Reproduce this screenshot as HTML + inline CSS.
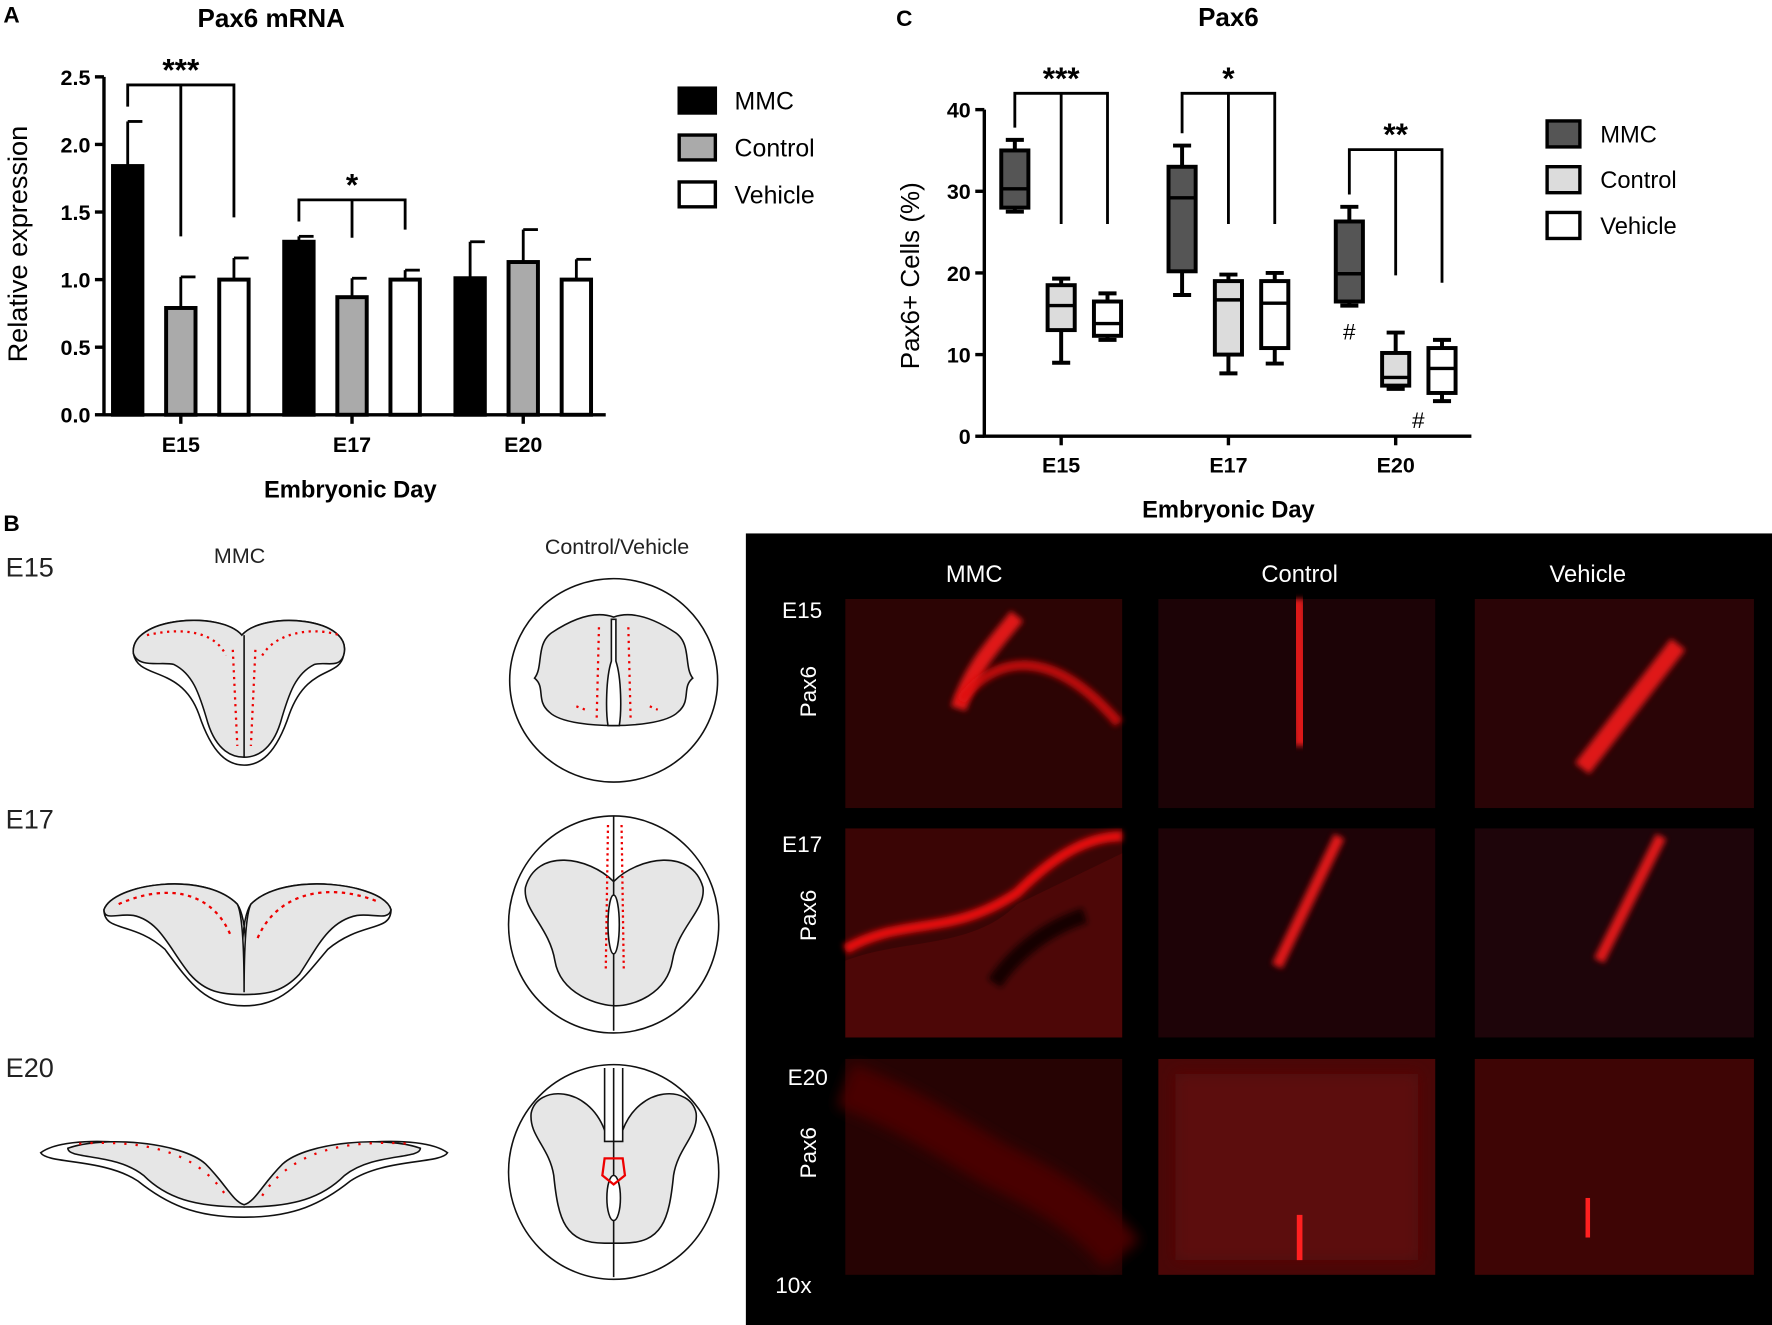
<!DOCTYPE html>
<html><head><meta charset="utf-8">
<style>
html,body{margin:0;padding:0;background:#fff;}
svg{display:block;font-family:"Liberation Sans",Arial,sans-serif;}
</style></head>
<body>
<svg id="fig" width="1772" height="1325" viewBox="0 0 1568 1172.4" preserveAspectRatio="none" xmlns="http://www.w3.org/2000/svg">
<defs>
<filter id="blur2" x="-20%" y="-20%" width="140%" height="140%"><feGaussianBlur stdDeviation="2.5"/></filter>
<filter id="blur5" x="-30%" y="-30%" width="160%" height="160%"><feGaussianBlur stdDeviation="6"/></filter>
</defs>
<rect width="1568" height="1172.4" fill="#fff"/>

<g>
<text x="3" y="20" font-size="20" font-weight="bold">A</text>
<text x="240" y="24" font-size="23" font-weight="bold" text-anchor="middle">Pax6 mRNA</text>
<text transform="translate(24,216) rotate(-90)" font-size="24" text-anchor="middle">Relative expression</text>
<text x="310" y="440" font-size="21" font-weight="bold" text-anchor="middle">Embryonic Day</text>
<g id="chartA"></g>
</g>

<g>
<text x="793" y="23" font-size="20" font-weight="bold">C</text>
<text x="1087" y="23" font-size="23" font-weight="bold" text-anchor="middle">Pax6</text>
<text transform="translate(813,244) rotate(-90)" font-size="23" text-anchor="middle">Pax6+ Cells  (%)</text>
<text x="1087" y="458" font-size="21" font-weight="bold" text-anchor="middle">Embryonic Day</text>
<g id="chartC"></g>
</g>

<g font-size="22" fill="#222">
<text x="3" y="470" font-size="20" font-weight="bold" fill="#000">B</text>
<text x="5" y="510" font-size="24">E15</text>
<text x="5" y="733" font-size="24">E17</text>
<text x="5" y="953" font-size="24">E20</text>
<text x="212" y="498" font-size="19" text-anchor="middle">MMC</text>
<text x="546" y="490" font-size="19" text-anchor="middle">Control/Vehicle</text>

<g stroke="#111" stroke-width="1.4">
<path d="M118,578 C115,546 195,540 214,562 C233,540 314,546 304,580 C300,600 272,588 256,632 C244,668 230,677 216,677 C202,677 188,668 176,632 C160,588 122,602 118,578 Z" fill="#fff"/>
<path d="M118,578 C115,546 195,540 214,562 C233,540 314,546 304,580 C300,592 288,585 278,588 C262,596 256,612 248,640 C240,665 226,670 216,670 C206,670 192,665 184,640 C176,612 170,596 154,588 C144,585 122,592 118,578 Z" fill="#e6e6e6"/>
<line x1="216" y1="562" x2="216" y2="670"/>
<g stroke="#e00" stroke-width="2" stroke-dasharray="2 4" fill="none"><path d="M206,575 L210,660"/><path d="M226,575 L222,660"/><path d="M130,562 C160,555 190,558 200,580"/><path d="M232,580 C245,558 280,555 300,562"/></g>
</g>
<g stroke="#111" stroke-width="1.4">
<path d="M92,805 C100,782 180,770 210,800 C220,815 218,860 216,880 C214,860 212,815 222,800 C252,770 340,782 346,805 C346,825 320,815 290,840 C265,870 250,890 216,890 C182,890 168,870 146,840 C118,815 92,825 92,805 Z" fill="#fff"/>
<path d="M92,805 C100,782 180,770 210,800 C216,812 216,860 216,878 C216,860 216,812 222,800 C252,770 340,782 346,805 C344,815 330,808 316,810 C290,815 280,840 265,862 C250,878 236,880 216,880 C196,880 182,878 168,862 C150,840 142,815 118,810 C104,808 92,815 92,805 Z" fill="#e6e6e6"/>
<g stroke="#e00" stroke-width="2" stroke-dasharray="3 4" fill="none"><path d="M105,800 C150,780 190,790 205,830"/><path d="M228,830 C245,790 290,780 335,798"/></g>
</g>
<g stroke="#111" stroke-width="1.4">
<path d="M36,1020 C60,1002 150,1010 180,1030 C200,1045 205,1065 216,1068 C227,1065 232,1045 252,1030 C282,1010 372,1002 396,1020 C390,1030 340,1025 310,1045 C285,1065 260,1077 216,1077 C172,1077 147,1065 122,1045 C92,1025 42,1030 36,1020 Z" fill="#fff"/>
<path d="M60,1016 C90,1005 160,1010 182,1030 C200,1048 206,1063 216,1066 C226,1063 232,1048 250,1030 C272,1010 342,1005 372,1016 C372,1026 330,1020 305,1040 C285,1060 260,1068 216,1068 C172,1068 147,1060 127,1040 C102,1020 60,1026 60,1016 Z" fill="#e6e6e6"/>
<g stroke="#e00" stroke-width="2" stroke-dasharray="2 8" fill="none"><path d="M70,1012 C130,1008 175,1020 200,1058"/><path d="M232,1058 C257,1020 302,1008 362,1012"/></g>
</g>
<g stroke="#111" stroke-width="1.4">
<ellipse cx="543" cy="602" rx="92" ry="90" fill="#fff"/>
<path d="M543,546 C560,540 580,548 598,560 C612,570 605,590 613,600 C603,608 612,620 600,630 C590,640 560,642 543,642 C526,642 496,640 486,630 C474,620 483,608 473,600 C481,590 474,570 488,560 C506,548 526,540 543,546 Z" fill="#e6e6e6"/>
<path d="M541,548 L541,585 C536,600 536,630 538,642 L548,642 C550,630 550,600 545,585 L545,548 Z" fill="#fff"/>
<g stroke="#e00" stroke-width="2" stroke-dasharray="2 4" fill="none"><path d="M530,555 L528,635"/><path d="M556,555 L558,635"/><path d="M510,625 L518,628"/><path d="M575,625 L582,628"/></g>
</g>
<g stroke="#111" stroke-width="1.4">
<ellipse cx="543" cy="818" rx="93" ry="96" fill="#fff"/>
<path d="M543,780 C565,758 612,750 622,785 C625,805 600,820 595,850 C590,880 560,890 545,890 C530,890 496,880 491,850 C486,820 462,805 465,785 C475,750 521,758 543,780 Z" fill="#e6e6e6"/>
<line x1="543" y1="722" x2="543" y2="912"/>
<ellipse cx="543" cy="818" rx="5" ry="26" fill="#fff"/>
<g stroke="#e00" stroke-width="2" stroke-dasharray="2 3" fill="none"><path d="M538,730 L536,860"/><path d="M550,730 L552,860"/></g>
</g>
<g stroke="#111" stroke-width="1.4">
<ellipse cx="543" cy="1037" rx="93" ry="95" fill="#fff"/>
<path d="M535,1000 C520,960 475,960 470,985 C468,1005 486,1015 490,1040 C494,1080 500,1100 535,1100 L551,1100 C586,1100 592,1080 596,1040 C600,1015 618,1005 616,985 C611,960 566,960 551,1000 Z" fill="#e6e6e6"/>
<path d="M535,945 L535,1010 L551,1010 L551,945" fill="#fff"/>
<line x1="543" y1="945" x2="543" y2="1130"/>
<ellipse cx="543" cy="1060" rx="6" ry="20" fill="#fff"/>
<path d="M535,1025 L551,1025 L553,1040 L543,1048 L533,1040 Z" fill="none" stroke="#e00" stroke-width="2"/>
</g>
</g>

<g>
<rect x="660" y="472" width="908" height="700.4" fill="#000"/>
<text x="862" y="515" fill="#fff" font-size="21" text-anchor="middle">MMC</text>
<text x="1150" y="515" fill="#fff" font-size="21" text-anchor="middle">Control</text>
<text x="1405" y="515" fill="#fff" font-size="21" text-anchor="middle">Vehicle</text>
<text x="692" y="547" fill="#fff" font-size="20">E15</text>
<text x="692" y="754" fill="#fff" font-size="20">E17</text>
<text x="697" y="960" fill="#fff" font-size="20">E20</text>
<text transform="translate(722,612) rotate(-90)" fill="#fff" font-size="20" text-anchor="middle">Pax6</text>
<text transform="translate(722,810) rotate(-90)" fill="#fff" font-size="20" text-anchor="middle">Pax6</text>
<text transform="translate(722,1020) rotate(-90)" fill="#fff" font-size="20" text-anchor="middle">Pax6</text>
<text x="686" y="1144" fill="#fff" font-size="20">10x</text>

<rect x="748" y="530" width="245" height="185" fill="#2c0404"/>
<path d="M848,627 C860,590 880,570 900,545" stroke="#ff1a1a" stroke-width="14" fill="none" filter="url(#blur2)" opacity="0.85"/>
<path d="M850,620 C880,580 930,570 990,640" stroke="#e01010" stroke-width="9" fill="none" filter="url(#blur2)" opacity="0.8"/>
<rect x="1025" y="530" width="245" height="185" fill="#1c0306"/>
<path d="M1148,530 L1152,660" stroke="#ff1a1a" stroke-width="14" fill="none" filter="url(#blur2)" opacity="0.85"/>
<rect x="1305" y="530" width="247" height="185" fill="#2a0406"/>
<path d="M1400,680 L1485,570" stroke="#ff1a1a" stroke-width="16" fill="none" filter="url(#blur2)" opacity="0.85"/>
<rect x="748" y="733" width="245" height="185" fill="#3a0505"/>
<path d="M748,840 C800,810 840,830 900,790 C930,760 960,740 993,740" stroke="#e81010" stroke-width="9" fill="none" filter="url(#blur2)"/>
<path d="M748,850 C800,830 860,840 900,800 L993,755 L993,918 L748,918 Z" fill="#5a0808" opacity="0.6"/>
<path d="M880,870 C900,840 930,820 960,810" stroke="#150202" stroke-width="14" fill="none" filter="url(#blur2)"/>
<rect x="1025" y="733" width="245" height="185" fill="#1e0307"/>
<path d="M1130,855 L1185,740" stroke="#ff1a1a" stroke-width="10" fill="none" filter="url(#blur2)" opacity="0.85"/>
<rect x="1305" y="733" width="247" height="185" fill="#1e050a"/>
<path d="M1415,850 L1470,740" stroke="#ff1a1a" stroke-width="10" fill="none" filter="url(#blur2)" opacity="0.85"/>
<rect x="748" y="937" width="245" height="191" fill="#260303"/>
<path d="M748,960 C800,980 830,1000 880,1030 C920,1050 960,1070 993,1110" stroke="#4a0606" stroke-width="40" fill="none" filter="url(#blur5)"/>
<rect x="1025" y="937" width="245" height="191" fill="#4a0707"/>
<rect x="1040" y="950" width="215" height="165" fill="#5c0909" filter="url(#blur5)"/>
<path d="M1150,1075 L1150,1115" stroke="#ff2020" stroke-width="5" fill="none"/>
<rect x="1305" y="937" width="247" height="191" fill="#3e0505"/>
<path d="M1405,1060 L1405,1095" stroke="#ff2020" stroke-width="4" fill="none"/>
</g>

<script>
const aCategories = ["E15", "E17", "E20"];
const aSeries = ["MMC", "Control", "Vehicle"];
const aMMC = [1.84, 1.28, 1.01];
const aControl = [0.79, 0.87, 1.13];
const aVehicle = [1.00, 1.00, 1.00];
const aMMCErr = [0.33, 0.04, 0.27];
const aControlErr = [0.23, 0.14, 0.24];
const aVehicleErr = [0.16, 0.07, 0.15];
const aTicks = [0.0, 0.5, 1.0, 1.5, 2.0, 2.5];
const aTickLabels = ["0.0", "0.5", "1.0", "1.5", "2.0", "2.5"];
const aSig = ["***", "*"];

const cCategories = ["E15", "E17", "E20"];
const cMMC = [[27.5, 28.0, 30.3, 35.0, 36.3], [17.3, 20.2, 29.2, 33.0, 35.6], [16.0, 16.5, 19.9, 26.3, 28.1]];
const cControl = [[9.0, 13.0, 16.0, 18.5, 19.3], [7.7, 10.0, 16.7, 19.0, 19.8], [5.8, 6.2, 7.2, 10.2, 12.7]];
const cVehicle = [[11.8, 12.3, 13.8, 16.5, 17.5], [8.9, 10.8, 16.3, 19.0, 20.0], [4.3, 5.3, 8.3, 10.8, 11.8]];
const cTicks = [0, 10, 20, 30, 40];
const cTickLabels = ["0", "10", "20", "30", "40"];
const cSig = ["***", "*", "**"];

const NS = "http://www.w3.org/2000/svg";
function mk(parent, tag, attrs, txt) {
  const e = document.createElementNS(NS, tag);
  for (const k in attrs) e.setAttribute(k, attrs[k]);
  if (txt !== undefined) e.textContent = txt;
  parent.appendChild(e);
  return e;
}

(function () {
  const g = document.getElementById("chartA");
  const x0 = 92, xEnd = 536, yBase = 367, yTop = 68, vMax = 2.5;
  const yA = v => yBase - (v / vMax) * (yBase - yTop);
  const groupX = i => 160 + i * 151.5;
  const bw = 26, off = 47;
  const ax = mk(g, "path", { d: `M${x0},${yTop} L${x0},${yBase} L${xEnd},${yBase}`, stroke: "#000", "stroke-width": 3, fill: "none" });
  
  
  aTicks.forEach((t, i) => {
    const y = yA(t);
    const tk = mk(g, "line", { x1: x0 - 8, x2: x0, y1: y, y2: y, stroke: "#000", "stroke-width": 3 });
    
    
    const lb = mk(g, "text", { x: x0 - 12, y: y + 7, "font-size": 19, "font-weight": "bold", "text-anchor": "end" }, aTickLabels[i]);
    
    
  });
  aCategories.forEach((c, i) => {
    const x = groupX(i);
    const tk = mk(g, "line", { x1: x, x2: x, y1: yBase, y2: yBase + 8, stroke: "#000", "stroke-width": 3 });
    
    
    const lb = mk(g, "text", { x: x, y: 400, "font-size": 19, "font-weight": "bold", "text-anchor": "middle" }, c);
    
    
  });
  const sets = [[aMMC, aMMCErr, "#000"], [aControl, aControlErr, "#aaaaaa"], [aVehicle, aVehicleErr, "#fff"]];
  sets.forEach((s, si) => {
    aCategories.forEach((c, i) => {
      const cx = groupX(i) + (si - 1) * off;
      const v = s[0][i], e = s[1][i];
      const el = mk(g, "line", { x1: cx, x2: cx, y1: yA(v), y2: yA(v + e), stroke: "#000", "stroke-width": 2.5 });
      
      
      const cap = mk(g, "line", { x1: cx, x2: cx + 13, y1: yA(v + e), y2: yA(v + e), stroke: "#000", "stroke-width": 2.5 });
      
      
      const r = mk(g, "rect", { x: cx - bw / 2, y: yA(v), width: bw, height: yBase - yA(v), fill: s[2], stroke: "#000", "stroke-width": 3.5 });
      
      
    });
  });
  aSig.forEach((s, i) => {
    const cx = groupX(i);
    const tops = [aMMC[i] + aMMCErr[i], aControl[i] + aControlErr[i], aVehicle[i] + aVehicleErr[i]];
    const yb = yA(Math.max(...tops) + 0.27);
    const legs = [yA(tops[0] + 0.11), yA(tops[1] + 0.3), yA(tops[2] + 0.3)];
    let d = `M${cx - off},${legs[0]} L${cx - off},${yb} L${cx + off},${yb} L${cx + off},${legs[2]} M${cx},${yb} L${cx},${legs[1]}`;
    const p = mk(g, "path", { d: d, stroke: "#000", "stroke-width": 2.5, fill: "none" });
    
    
    const t = mk(g, "text", { x: cx, y: yb - 4, "font-size": 28, "font-weight": "bold", "text-anchor": "middle" }, s);
    
    
  });
  const cols = ["#000", "#aaaaaa", "#fff"];
  aSeries.forEach((n, i) => {
    const y = 78 + i * 41.5;
    const r = mk(g, "rect", { x: 601, y: y, width: 32, height: 22, fill: cols[i], stroke: "#000", "stroke-width": 3 });
    
    
    const t = mk(g, "text", { x: 650, y: y + 19, "font-size": 22 }, n);
    
    
  });
})();

(function () {
  const g = document.getElementById("chartC");
  const x0 = 871, xEnd = 1302, yBase = 386, yTop = 97, vMax = 40;
  const yC = v => yBase - (v / vMax) * (yBase - yTop);
  const groupX = i => 939 + i * 148;
  const bw = 24, off = 41;
  const ax = mk(g, "path", { d: `M${x0},${yTop} L${x0},${yBase} L${xEnd},${yBase}`, stroke: "#000", "stroke-width": 3, fill: "none" });
  
  
  cTicks.forEach((t, i) => {
    const y = yC(t);
    const tk = mk(g, "line", { x1: x0 - 8, x2: x0, y1: y, y2: y, stroke: "#000", "stroke-width": 3 });
    
    
    const lb = mk(g, "text", { x: x0 - 12, y: y + 7, "font-size": 19, "font-weight": "bold", "text-anchor": "end" }, cTickLabels[i]);
    
    
  });
  cCategories.forEach((c, i) => {
    const x = groupX(i);
    const tk = mk(g, "line", { x1: x, x2: x, y1: yBase, y2: yBase + 8, stroke: "#000", "stroke-width": 3 });
    
    
    const lb = mk(g, "text", { x: x, y: 418, "font-size": 19, "font-weight": "bold", "text-anchor": "middle" }, c);
    
    
  });
  const names = ["mmc", "control", "vehicle"];
  const sets = [[cMMC, "#555555"], [cControl, "#dcdcdc"], [cVehicle, "#fff"]];
  sets.forEach((s, si) => {
    cCategories.forEach((c, i) => {
      const cx = groupX(i) + (si - 1) * off;
      const [mn, q1, md, q3, mx] = s[0][i];
      const w = mk(g, "path", { d: `M${cx},${yC(mx)} L${cx},${yC(mn)} M${cx - 8},${yC(mx)} L${cx + 8},${yC(mx)} M${cx - 8},${yC(mn)} L${cx + 8},${yC(mn)}`, stroke: "#000", "stroke-width": 3.5, fill: "none" });
      
      
      const r = mk(g, "rect", { x: cx - bw / 2, y: yC(q3), width: bw, height: yC(q1) - yC(q3), fill: s[1], stroke: "#000", "stroke-width": 3.5 });
      
      
      const m = mk(g, "line", { x1: cx - bw / 2, x2: cx + bw / 2, y1: yC(md), y2: yC(md), stroke: "#000", "stroke-width": 3 });
      
      
    });
  });
  cSig.forEach((s, i) => {
    const cx = groupX(i);
    const tops = [cMMC[i][4], cControl[i][4], cVehicle[i][4]];
    const yb = i < 2 ? yC(42) : yC(Math.max(...tops) + 7);
    const legs = [yC(tops[0] + 1.5), yC(tops[1] + 7), yC(tops[2] + 7)];
    if (i < 2) { legs[1] = yC(26); legs[2] = yC(26); }
    const d = `M${cx - off},${legs[0]} L${cx - off},${yb} L${cx + off},${yb} L${cx + off},${legs[2]} M${cx},${yb} L${cx},${legs[1]}`;
    const p = mk(g, "path", { d: d, stroke: "#000", "stroke-width": 2.5, fill: "none" });
    
    
    const t = mk(g, "text", { x: cx, y: yb - 4, "font-size": 28, "font-weight": "bold", "text-anchor": "middle" }, s);
    
    
  });
  const h1 = mk(g, "text", { x: groupX(2) - off, y: yC(cMMC[2][0]) + 30, "font-size": 20, "text-anchor": "middle" }, "#");
  
  
  const h2 = mk(g, "text", { x: groupX(2) + 20, y: yC(cVehicle[2][0]) + 24, "font-size": 20, "text-anchor": "middle" }, "#");
  
  
  const cols = ["#555555", "#dcdcdc", "#fff"];
  const lab = ["MMC", "Control", "Vehicle"];
  lab.forEach((n, i) => {
    const y = 107 + i * 40.5;
    const r = mk(g, "rect", { x: 1369, y: y, width: 29, height: 23, fill: cols[i], stroke: "#000", "stroke-width": 3 });
    
    
    const t = mk(g, "text", { x: 1416, y: y + 19, "font-size": 21 }, n);
    
    
  });
})();
</script>
</svg>
</body></html>
